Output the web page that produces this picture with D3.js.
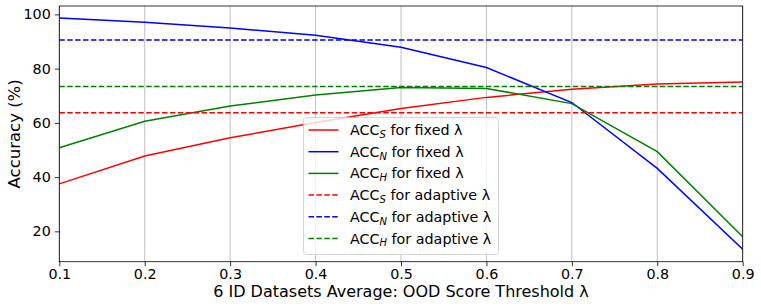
<!DOCTYPE html>
<html>
<head>
<meta charset="utf-8">
<script src="https://cdn.jsdelivr.net/npm/d3@7"></script>
<style>
  body { margin: 0; background: #fff; }
  svg { font-family: "DejaVu Sans", sans-serif; }
</style>
</head>
<body>
<div id="chart"></div>
<script>
// Data
const thresholds = [0.1, 0.2, 0.3, 0.4, 0.5, 0.6, 0.7, 0.8, 0.9];
const accS = [37.5, 47.8, 54.5, 60.1, 65.3, 69.4, 72.4, 74.3, 75.1];
const accN = [98.7, 97.1, 95.0, 92.3, 87.9, 80.4, 67.5, 43.2, 13.4];
const accH = [50.8, 60.6, 66.2, 70.3, 73.0, 72.7, 67.1, 49.4, 18.0];
const adaptiveS = 63.7;
const adaptiveN = 90.6;
const adaptiveH = 73.4;
const xTicks = [0.1, 0.2, 0.3, 0.4, 0.5, 0.6, 0.7, 0.8, 0.9];
const yTicks = [20, 40, 60, 80, 100];

const width = 761, height = 308;
const margin = { left: 59.3, right: 18.3, top: 6, bottom: 46.3 };
const tickFont = 14.3;

const svg = d3.select("#chart").append("svg")
    .attr("width", width)
    .attr("height", height);

const x = d3.scaleLinear()
    .domain([0.1, 0.9])
    .range([margin.left, width - margin.right]);

const y = d3.scaleLinear()
    .domain([8.8, 103.1])
    .range([height - margin.bottom, margin.top]);

// vertical grid
svg.append("g")
    .selectAll("line")
    .data(xTicks)
    .join("line")
    .attr("x1", d => x(d)).attr("x2", d => x(d))
    .attr("y1", margin.top).attr("y2", height - margin.bottom)
    .attr("stroke", "#b0b0b0")
    .attr("stroke-width", 0.8);

// series
const series = [
    { values: accS, color: "red", sub: "S" },
    { values: accN, color: "blue", sub: "N" },
    { values: accH, color: "green", sub: "H" }
];
const adaptive = [
    { value: adaptiveS, color: "red", sub: "S" },
    { value: adaptiveN, color: "blue", sub: "N" },
    { value: adaptiveH, color: "green", sub: "H" }
];

const line = d3.line()
    .x((d, i) => x(thresholds[i]))
    .y(d => y(d));

svg.append("clipPath").attr("id", "plot-clip")
    .append("rect")
    .attr("x", margin.left).attr("y", margin.top)
    .attr("width", width - margin.left - margin.right)
    .attr("height", height - margin.top - margin.bottom);

const plot = svg.append("g").attr("clip-path", "url(#plot-clip)");

series.forEach(s => {
    plot.append("path")
        .datum(s.values)
        .attr("d", line)
        .attr("fill", "none")
        .attr("stroke", s.color)
        .attr("stroke-width", 1.5);
});

adaptive.forEach(a => {
    plot.append("line")
        .attr("x1", x(0.1)).attr("x2", x(0.9))
        .attr("y1", y(a.value)).attr("y2", y(a.value))
        .attr("stroke", a.color)
        .attr("stroke-width", 1.5)
        .attr("stroke-dasharray", "5.5,2.4");
});

// axes
const xAxis = svg.append("g")
    .attr("transform", `translate(0,${height - margin.bottom})`)
    .call(d3.axisBottom(x).tickValues(xTicks).tickFormat(d3.format(".1f")).tickSize(4.5).tickPadding(2.3));

const yAxis = svg.append("g")
    .attr("transform", `translate(${margin.left},0)`)
    .call(d3.axisLeft(y).tickValues(yTicks).tickFormat(d3.format("d")).tickSize(4.5).tickPadding(4));

[xAxis, yAxis].forEach(a => {
    a.select(".domain").remove();
    a.selectAll("text")
        .attr("font-family", "DejaVu Sans")
        .attr("font-size", tickFont)
        .attr("fill", "#000");
    a.selectAll("line").attr("stroke", "#000").attr("stroke-width", 0.8);
});

// frame
svg.append("rect")
    .attr("x", margin.left).attr("y", margin.top)
    .attr("width", width - margin.left - margin.right)
    .attr("height", height - margin.top - margin.bottom)
    .attr("fill", "none")
    .attr("stroke", "#000")
    .attr("stroke-width", 0.8);

// axis labels
svg.append("text")
    .attr("x", (margin.left + width - margin.right) / 2)
    .attr("y", 297)
    .attr("text-anchor", "middle")
    .attr("font-size", 16)
    .text("6 ID Datasets Average: OOD Score Threshold λ");

svg.append("text")
    .attr("transform", `translate(19.5,${(margin.top + height - margin.bottom) / 2}) rotate(-90)`)
    .attr("text-anchor", "middle")
    .attr("font-size", 16.5)
    .text("Accuracy (%)");

// legend
const legendItems = [
    ...series.map(s => ({ color: s.color, sub: s.sub, dashed: false, label: " for fixed λ" })),
    ...adaptive.map(a => ({ color: a.color, sub: a.sub, dashed: true, label: " for adaptive λ" }))
];

const legend = svg.append("g").attr("transform", "translate(303.5,117.5)");
legend.append("rect")
    .attr("width", 195).attr("height", 137)
    .attr("rx", 3)
    .attr("fill", "#fff").attr("fill-opacity", 0.8)
    .attr("stroke", "#cccccc")
    .attr("stroke-width", 0.8);

const rows = legend.selectAll("g.row")
    .data(legendItems)
    .join("g")
    .attr("class", "row")
    .attr("transform", (d, i) => `translate(0,${12.5 + i * 21.7})`);

rows.append("line")
    .attr("x1", 5).attr("x2", 35)
    .attr("stroke", d => d.color)
    .attr("stroke-width", 1.5)
    .attr("stroke-dasharray", d => d.dashed ? "5.5,2.4" : null);

const label = rows.append("text")
    .attr("x", 46.5)
    .attr("y", 5)
    .attr("font-size", tickFont);
label.append("tspan").text("ACC");
label.append("tspan")
    .attr("font-size", 10)
    .attr("font-style", "italic")
    .attr("dy", 2.8)
    .text(d => d.sub);
label.append("tspan")
    .attr("dy", -2.8)
    .text(d => d.label);
</script>
</body>
</html>
